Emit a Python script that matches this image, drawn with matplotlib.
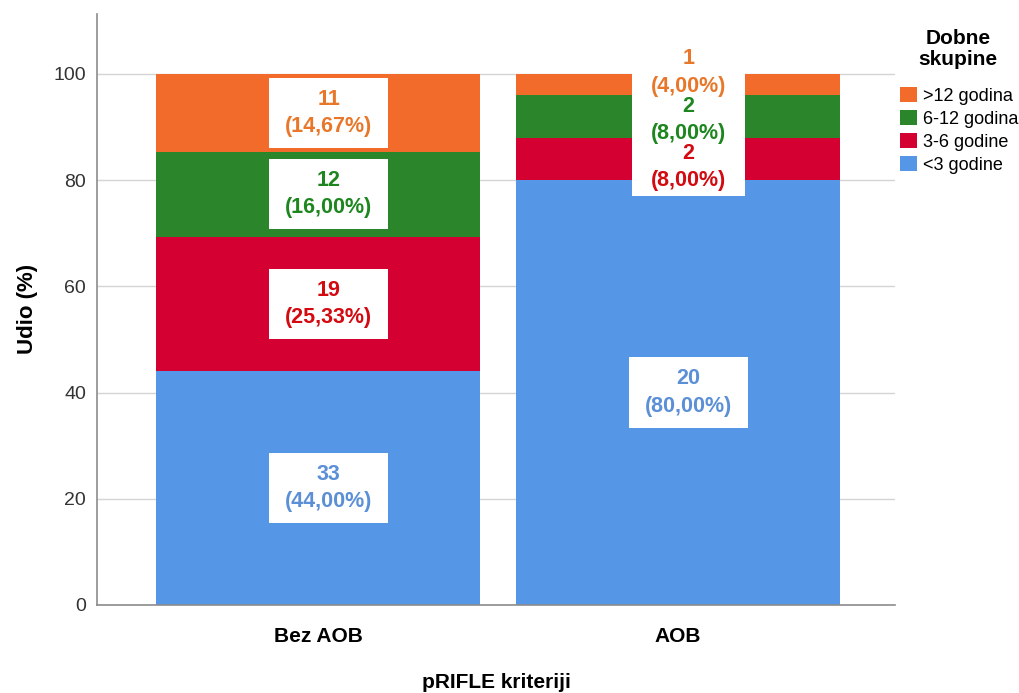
import numpy as np
import matplotlib
matplotlib.use("Agg")
import matplotlib.pyplot as plt
from matplotlib.patches import Patch, Rectangle

plt.rcParams['font.family'] = ['Liberation Sans', 'DejaVu Sans']

#=========================================================================================
categories = ['Bez AOB', 'AOB']
groups = ['<3 godine', '3-6 godine', '6-12 godina', '>12 godina']
counts = {
    '<3 godine':   [33, 20],
    '3-6 godine':  [19, 2],
    '6-12 godina': [12, 2],
    '>12 godina':  [11, 1],
}
bar_colors = {
    '<3 godine':   '#5596e6',
    '3-6 godine':  '#d50032',
    '6-12 godina': '#2b862b',
    '>12 godina':  '#f26b2a',
}
text_colors = {
    '<3 godine':   '#5b8fd6',
    '3-6 godine':  '#d30a10',
    '6-12 godina': '#1e861e',
    '>12 godina':  '#e8772a',
}

#=========================================================================================
fig = plt.figure(figsize=(10.19, 6.93), dpi=100)
ax = fig.add_axes([0.0952, 0.127, 0.783, 0.853])

x = np.arange(len(categories))
totals = np.sum([counts[g] for g in groups], axis=0)
bottom = np.zeros(len(categories))
label_info = [[] for _ in categories]
for g in groups:
    vals = np.array(counts[g], dtype=float)
    pct = vals / totals * 100
    ax.bar(x, pct, width=0.9, bottom=bottom, color=bar_colors[g], zorder=2)
    for i in range(len(categories)):
        label_info[i].append((bottom[i] + pct[i] / 2, int(vals[i]), pct[i], g))
    bottom += pct

ax.set_xlim(-0.614, 1.603)
ax.set_ylim(0, 111.3)

#---------------------------------------------------------------------------------------------
# labels: midpoints, crowded ones stacked around their mean
step = 8.9
xoff = 0.03
texts = []
for i, infos in enumerate(label_info):
    clusters = [[infos[0]]]
    for info in infos[1:]:
        if info[0] - clusters[-1][-1][0] < step:
            clusters[-1].append(info)
        else:
            clusters.append([info])
    for cl in clusters:
        center = np.mean([c[0] for c in cl])
        n = len(cl)
        crowded = n > 1
        for k, (mid, cnt, p, g) in enumerate(cl):
            ypos = center + (k - (n - 1) / 2) * step if crowded else mid
            txt = '%d\n(%s%%)' % (cnt, ('%.2f' % p).replace('.', ','))
            t = ax.text(x[i] + xoff, ypos, txt, ha='center', va='center', fontsize=15.5,
                        fontweight='bold', color=text_colors[g], linespacing=1.4, zorder=4)
            texts.append((t, crowded))

# white boxes behind the labels
fig.canvas.draw()
renderer = fig.canvas.get_renderer()
inv = ax.transData.inverted()
for t, crowded in texts:
    bb = t.get_window_extent(renderer)
    padx, pady = (19, 5) if crowded else (16, 11)
    (x0, y0) = inv.transform((bb.x0 - padx, bb.y0 - pady))
    (x1, y1) = inv.transform((bb.x1 + padx, bb.y1 + pady))
    ax.add_patch(Rectangle((x0, y0), x1 - x0, y1 - y0, facecolor='white',
                           edgecolor='none', zorder=3))

#---------------------------------------------------------------------------------------------
ax.set_yticks([0, 20, 40, 60, 80, 100])
ax.grid(axis='y', color='#d4d4d4', linewidth=1, zorder=0)
ax.set_axisbelow(True)
for s in ['top', 'right']:
    ax.spines[s].set_visible(False)
for s in ['left', 'bottom']:
    ax.spines[s].set_color('#8c8c8c')
    ax.spines[s].set_linewidth(1.2)
ax.tick_params(axis='y', length=0, pad=8, labelsize=14, labelcolor='#333333')
ax.tick_params(axis='x', length=0, pad=16)
ax.set_xticks(x)
ax.set_xticklabels(categories, fontsize=15, fontweight='bold')
ax.set_ylabel('Udio (%)', fontsize=16, fontweight='bold', labelpad=11)
ax.set_xlabel('pRIFLE kriteriji', fontsize=15, fontweight='bold', labelpad=19)

fig.text(958 / 1019, 1 - 49 / 693, 'Dobne\nskupine', ha='center', va='center',
         fontsize=15, fontweight='bold', linespacing=1.1)
handles = [Patch(facecolor=bar_colors[g], label=g) for g in groups[::-1]]
leg = fig.legend(handles=handles, loc='upper left',
                 bbox_to_anchor=(900 / 1019, 1 - 87 / 693), frameon=False, fontsize=13,
                 handlelength=0.95, handleheight=0.9, handletextpad=0.3,
                 labelspacing=0.3, borderaxespad=0, borderpad=0)

fig.savefig('out.png', dpi=100)
